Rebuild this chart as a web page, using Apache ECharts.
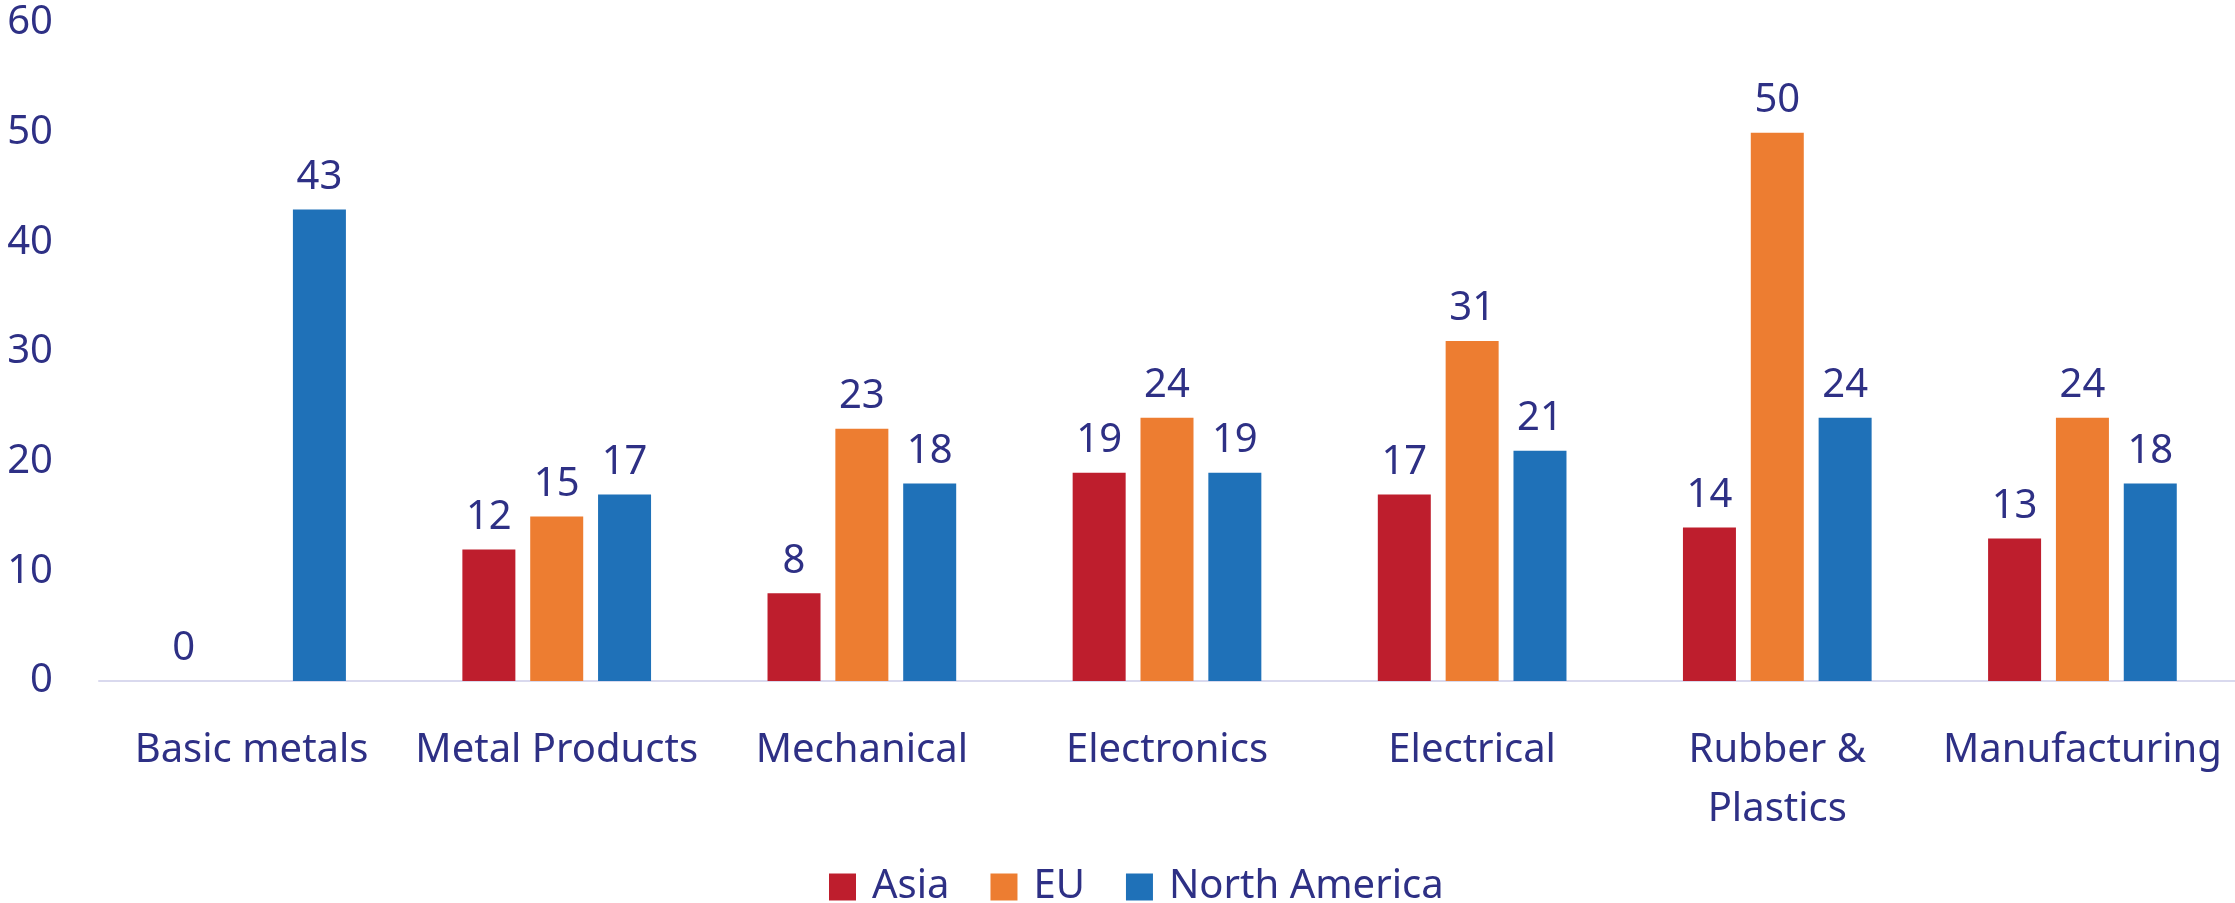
<!DOCTYPE html>
<html><head><meta charset="utf-8">
<script src="https://cdn.jsdelivr.net/npm/echarts@6/dist/echarts.min.js"></script>
<style>html,body{margin:0;padding:0;background:#fff}#c{width:2235px;height:903px}</style>
</head><body><div id="c"></div>
<script>
const categories = ['Basic metals','Metal Products','Mechanical','Electronics','Electrical','Rubber &\nPlastics','Manufacturing'];
const asia = [0, 12, 8, 19, 17, 14, 13];
const eu = ['-', 15, 23, 24, 31, 50, 24];
const northAmerica = [43, 17, 18, 19, 21, 24, 18];
const yTicks = [0, 10, 20, 30, 40, 50, 60];

const txt = '#2E3085';
const font = 'Noto Sans';
const fs = 40;
const chart = echarts.init(document.getElementById('c'));
const lbl = {show:true, position:'top', distance:12, color:txt, fontFamily:font, fontSize:fs};
chart.setOption({
  animation:false,
  textStyle:{fontFamily:font},
  grid:{left:99, right:0, top:23, bottom:222, containLabel:false},
  legend:{left:824, top:862, itemWidth:27, itemHeight:27, itemGap:41,
    textStyle:{color:txt, fontFamily:font, fontSize:40, padding:[0,0,0,11]},
    icon:'rect', data:['Asia','EU','North America']},
  xAxis:{type:'category', data:categories,
    axisLine:{lineStyle:{color:'#D9D9EE', width:2}}, axisTick:{show:false},
    axisLabel:{color:txt, fontFamily:font, fontSize:fs, margin:40, lineHeight:59, interval:0}},
  yAxis:{type:'value', min:yTicks[0], max:yTicks[yTicks.length-1], interval:10,
    splitLine:{show:false}, axisLine:{show:false}, axisTick:{show:false},
    axisLabel:{color:txt, fontFamily:font, fontSize:fs, margin:46}},
  series:[
    {name:'Asia', type:'bar', data:asia, barWidth:53, barGap:'28%', itemStyle:{color:'#BE1E2D'}, label:lbl},
    {name:'EU', type:'bar', data:eu, barWidth:53, barGap:'28%', itemStyle:{color:'#ED7D31'}, label:lbl},
    {name:'North America', type:'bar', data:northAmerica, barWidth:53, barGap:'28%', itemStyle:{color:'#1F71B8'}, label:lbl}
  ]
});
</script></body></html>
